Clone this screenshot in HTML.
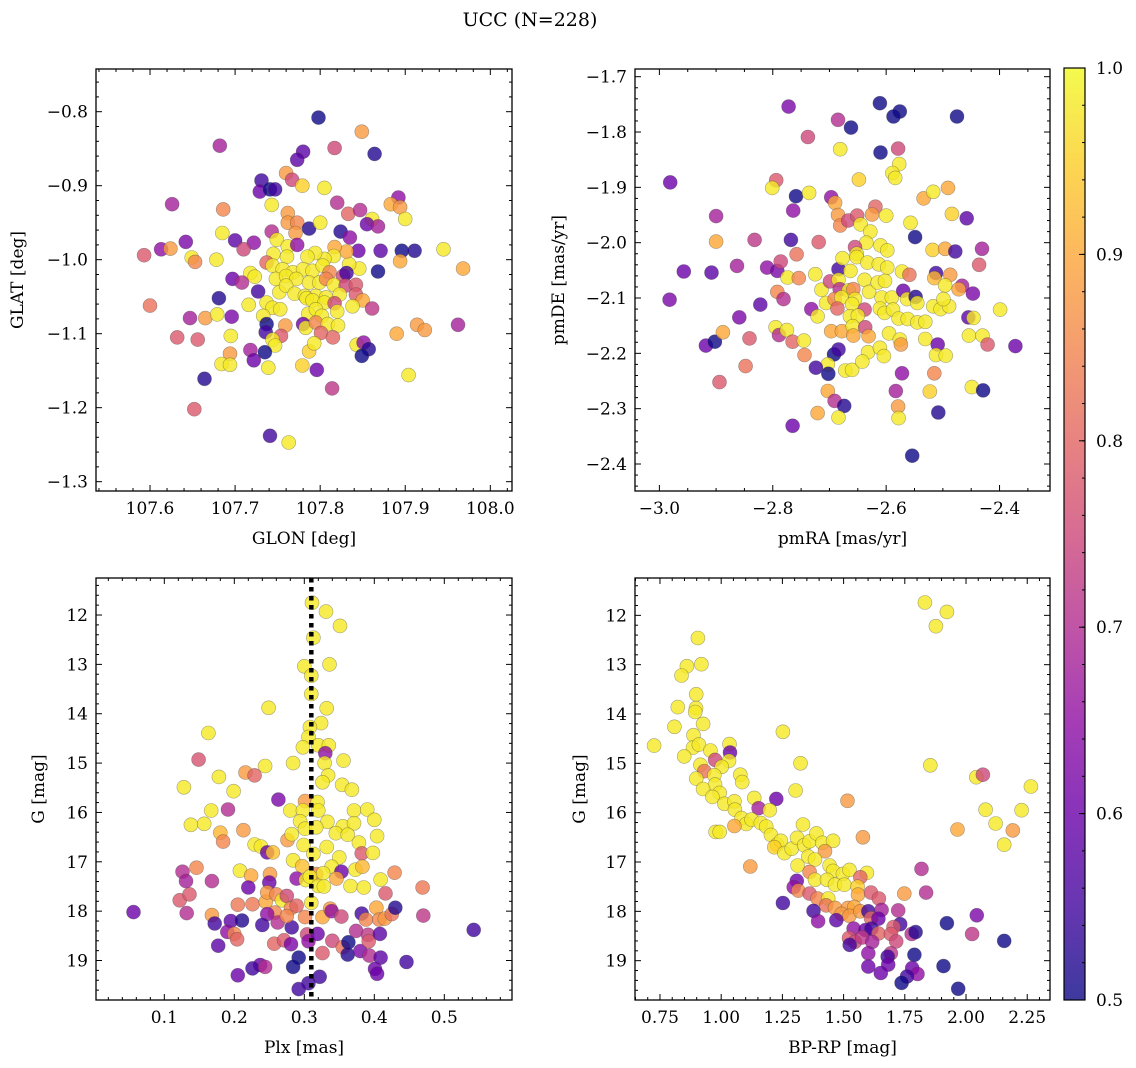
<!DOCTYPE html>
<html><head><meta charset="utf-8">
<style>
html,body{margin:0;padding:0;background:#fff;}
svg{display:block;font-family:"DejaVu Serif","Liberation Serif",serif;}
</style></head>
<body>
<svg id="fig" width="1136" height="1068" viewBox="0 0 1136 1068" xmlns="http://www.w3.org/2000/svg">
<defs>
<linearGradient id="cbgrad" x1="0" y1="1" x2="0" y2="0">
<stop offset="0" stop-color="#0d0887"/><stop offset="0.1" stop-color="#41049d"/><stop offset="0.2" stop-color="#6a00a8"/><stop offset="0.3" stop-color="#8f0da4"/><stop offset="0.4" stop-color="#b12a90"/><stop offset="0.5" stop-color="#cc4778"/><stop offset="0.6" stop-color="#e16462"/><stop offset="0.7" stop-color="#f2844b"/><stop offset="0.8" stop-color="#fca636"/><stop offset="0.9" stop-color="#fcce25"/><stop offset="1" stop-color="#f0f921"/>
</linearGradient>
</defs>
<text x="530" y="26" font-size="19" text-anchor="middle">UCC (N=228)</text>
</svg>
<script>
// ---- Panel 1: GLON vs GLAT ----
const glon = [107.798,107.849,107.682,107.817,107.78,107.773,107.864,107.76,107.767,107.779,107.731,107.729,107.741,107.747,107.805,107.626,107.686,107.743,107.82,107.833,107.847,107.892,107.883,107.894,107.9,107.861,107.855,107.868,107.762,107.762,107.773,107.771,107.787,107.8,107.824,107.835,107.743,107.685,107.7,107.722,107.642,107.613,107.624,107.593,107.649,107.653,107.678,107.71,107.749,107.762,107.773,107.845,107.871,107.896,107.911,107.945,107.968,107.894,107.868,107.846,107.834,107.831,107.817,107.816,107.805,107.794,107.785,107.745,107.761,107.737,107.744,107.756,107.768,107.78,107.791,107.803,107.811,107.827,107.831,107.718,107.723,107.697,107.708,107.748,107.76,107.772,107.787,107.799,107.807,107.816,107.83,107.842,107.727,107.752,107.76,107.77,107.782,107.795,107.807,107.823,107.842,107.681,107.784,107.791,107.805,107.817,107.85,107.838,107.861,107.6,107.716,107.737,107.744,107.753,107.733,107.786,107.795,107.802,107.82,107.647,107.665,107.679,107.696,107.737,107.736,107.759,107.78,107.783,107.795,107.809,107.821,107.801,107.815,107.754,107.744,107.747,107.632,107.656,107.695,107.694,107.718,107.722,107.735,107.684,107.694,107.739,107.779,107.787,107.793,107.796,107.843,107.851,107.857,107.849,107.89,107.914,107.923,107.962,107.664,107.814,107.904,107.652,107.741,107.763];
const glat = [-0.808,-0.827,-0.846,-0.849,-0.854,-0.865,-0.857,-0.883,-0.892,-0.9,-0.893,-0.908,-0.905,-0.905,-0.903,-0.925,-0.932,-0.926,-0.923,-0.938,-0.933,-0.916,-0.925,-0.929,-0.945,-0.945,-0.952,-0.955,-0.937,-0.95,-0.95,-0.964,-0.958,-0.95,-0.962,-0.97,-0.962,-0.964,-0.974,-0.977,-0.976,-0.986,-0.985,-0.994,-0.997,-1.003,-1.0,-0.986,-0.973,-0.982,-0.98,-0.988,-0.988,-0.988,-0.988,-0.986,-1.012,-1.002,-1.016,-1.012,-1.006,-0.989,-0.983,-0.995,-0.999,-0.991,-0.996,-0.992,-0.996,-1.004,-1.008,-1.013,-1.017,-1.013,-1.015,-1.008,-1.017,-1.022,-1.018,-1.018,-1.023,-1.026,-1.031,-1.026,-1.022,-1.026,-1.031,-1.031,-1.026,-1.034,-1.035,-1.034,-1.043,-1.044,-1.035,-1.046,-1.049,-1.049,-1.051,-1.047,-1.047,-1.052,-1.052,-1.055,-1.058,-1.059,-1.055,-1.063,-1.066,-1.062,-1.061,-1.058,-1.065,-1.067,-1.076,-1.073,-1.067,-1.076,-1.07,-1.079,-1.079,-1.074,-1.077,-1.087,-1.098,-1.089,-1.087,-1.092,-1.085,-1.087,-1.089,-1.099,-1.105,-1.103,-1.108,-1.116,-1.105,-1.108,-1.103,-1.127,-1.122,-1.136,-1.125,-1.141,-1.142,-1.146,-1.143,-1.124,-1.113,-1.149,-1.115,-1.112,-1.121,-1.13,-1.1,-1.088,-1.095,-1.088,-1.161,-1.174,-1.156,-1.202,-1.238,-1.247];
const prob1 = [.5,.88,.68,.75,.58,.58,.52,.88,.75,.95,.55,.6,.5,.55,.98,.68,.85,.98,.7,.8,.7,.65,.9,.88,.98,.98,.6,.68,.88,.88,.85,.88,.52,.98,.52,.65,.7,.98,.58,.65,.62,.65,.88,.78,.98,.85,.98,.75,.98,.98,.65,.6,.58,.5,.52,.98,.9,.9,.5,.98,.98,.9,.9,.98,.98,.98,.98,.98,.98,.8,.98,.98,.98,.98,.98,.98,.85,.75,.55,.98,.98,.6,.7,.98,.98,.98,.98,.98,.85,.98,.75,.78,.55,.98,.98,.98,.98,.98,.98,.98,.78,.52,.98,.98,.98,.75,.9,.98,.72,.82,.98,.98,.98,.98,.98,.98,.98,.98,.98,.68,.88,.98,.62,.5,.55,.88,.6,.98,.85,.98,.98,.8,.8,.78,.98,.98,.78,.78,.98,.88,.68,.6,.5,.98,.98,.98,.95,.95,.98,.6,.98,.65,.52,.5,.9,.88,.88,.68,.52,.72,.98,.78,.55,.98];

// ---- Panel 2: pmRA vs pmDE ----
const pmra = [-2.772,-2.611,-2.576,-2.587,-2.475,-2.685,-2.662,-2.738,-2.681,-2.61,-2.579,-2.577,-2.589,-2.584,-2.648,-2.981,-2.794,-2.801,-2.759,-2.736,-2.697,-2.69,-2.764,-2.9,-2.685,-2.681,-2.667,-2.651,-2.645,-2.619,-2.625,-2.6,-2.628,-2.557,-2.534,-2.517,-2.491,-2.484,-2.458,-2.9,-2.832,-2.768,-2.719,-2.758,-2.635,-2.61,-2.598,-2.655,-2.652,-2.549,-2.518,-2.496,-2.478,-2.431,-2.436,-2.957,-2.908,-2.863,-2.81,-2.792,-2.786,-2.774,-2.754,-2.725,-2.684,-2.677,-2.652,-2.663,-2.633,-2.613,-2.598,-2.572,-2.559,-2.512,-2.487,-2.515,-2.496,-2.466,-2.472,-2.447,-2.982,-2.822,-2.792,-2.781,-2.714,-2.699,-2.684,-2.682,-2.666,-2.658,-2.655,-2.638,-2.63,-2.615,-2.602,-2.608,-2.59,-2.57,-2.563,-2.548,-2.545,-2.706,-2.691,-2.679,-2.66,-2.638,-2.686,-2.732,-2.721,-2.664,-2.65,-2.611,-2.603,-2.588,-2.578,-2.562,-2.545,-2.531,-2.517,-2.504,-2.489,-2.499,-2.455,-2.446,-2.399,-2.372,-2.918,-2.902,-2.888,-2.859,-2.841,-2.795,-2.789,-2.775,-2.765,-2.745,-2.744,-2.697,-2.678,-2.659,-2.658,-2.637,-2.631,-2.632,-2.611,-2.604,-2.595,-2.576,-2.574,-2.531,-2.509,-2.512,-2.495,-2.454,-2.43,-2.421,-2.692,-2.684,-2.703,-2.724,-2.702,-2.672,-2.66,-2.642,-2.848,-2.572,-2.515,-2.894,-2.703,-2.691,-2.674,-2.583,-2.523,-2.449,-2.429,-2.721,-2.684,-2.579,-2.578,-2.508,-2.765,-2.554];
const pmde = [-1.754,-1.748,-1.763,-1.772,-1.772,-1.778,-1.792,-1.809,-1.831,-1.837,-1.83,-1.858,-1.874,-1.883,-1.886,-1.891,-1.887,-1.901,-1.916,-1.91,-1.918,-1.928,-1.942,-1.952,-1.95,-1.969,-1.96,-1.951,-1.967,-1.935,-1.949,-1.951,-1.98,-1.964,-1.92,-1.908,-1.901,-1.948,-1.956,-1.998,-1.995,-1.995,-1.999,-2.021,-2.0,-2.005,-2.014,-2.008,-2.02,-1.99,-2.013,-2.011,-2.016,-2.011,-2.04,-2.052,-2.054,-2.042,-2.045,-2.051,-2.034,-2.063,-2.064,-2.057,-2.048,-2.028,-2.026,-2.051,-2.036,-2.039,-2.045,-2.052,-2.058,-2.055,-2.058,-2.064,-2.077,-2.078,-2.084,-2.092,-2.103,-2.112,-2.089,-2.102,-2.085,-2.07,-2.067,-2.084,-2.086,-2.084,-2.102,-2.067,-2.089,-2.072,-2.069,-2.099,-2.099,-2.087,-2.102,-2.098,-2.109,-2.109,-2.102,-2.099,-2.111,-2.121,-2.119,-2.12,-2.133,-2.133,-2.132,-2.119,-2.127,-2.121,-2.137,-2.138,-2.144,-2.143,-2.115,-2.12,-2.115,-2.102,-2.135,-2.136,-2.121,-2.187,-2.186,-2.179,-2.162,-2.135,-2.173,-2.153,-2.167,-2.158,-2.179,-2.177,-2.203,-2.16,-2.16,-2.151,-2.168,-2.153,-2.169,-2.198,-2.19,-2.205,-2.164,-2.175,-2.184,-2.174,-2.184,-2.203,-2.204,-2.168,-2.168,-2.184,-2.202,-2.193,-2.22,-2.226,-2.237,-2.231,-2.23,-2.215,-2.223,-2.236,-2.236,-2.252,-2.268,-2.286,-2.295,-2.268,-2.269,-2.261,-2.267,-2.308,-2.316,-2.296,-2.317,-2.307,-2.331,-2.385];
const prob2 = [.62,.5,.5,.5,.5,.7,.5,.75,.98,.5,.75,.98,.98,.98,.95,.6,.78,.98,.5,.98,.65,.9,.65,.68,.88,.85,.75,.78,.98,.8,.88,.98,.98,.98,.9,.98,.9,.95,.58,.9,.72,.55,.78,.82,.98,.98,.98,.75,.98,.5,.95,.9,.55,.68,.78,.6,.58,.68,.65,.62,.75,.98,.85,.98,.55,.98,.98,.98,.98,.98,.98,.98,.82,.55,.88,.92,.98,.68,.9,.62,.62,.58,.85,.7,.98,.75,.98,.7,.98,.85,.98,.98,.98,.98,.98,.98,.98,.6,.98,.52,.98,.98,.85,.98,.98,.75,.8,.65,.98,.98,.98,.98,.98,.98,.98,.98,.98,.98,.98,.98,.98,.98,.58,.98,.98,.6,.6,.5,.9,.62,.78,.98,.7,.98,.8,.98,.85,.9,.9,.98,.9,.75,.9,.98,.98,.98,.98,.98,.88,.98,.6,.98,.98,.98,.98,.78,.5,.55,.98,.55,.5,.98,.98,.98,.82,.65,.85,.78,.9,.7,.52,.68,.95,.98,.5,.9,.98,.88,.98,.52,.6,.5];

// ---- Panel 3: Plx vs G ----
const plx = [.311,.331,.351,.313,.30,.336,.31,.31,.249,.332,.324,.308,.163,.306,.32,.335,.298,.33,.149,.244,.284,.329,.356,.216,.229,.178,.334,.326,.128,.199,.354,.368,.263,.301,.319,.191,.167,.28,.298,.32,.371,.39,.138,.157,.213,.294,.333,.355,.371,.40,.18,.184,.276,.282,.301,.317,.345,.362,.404,.229,.238,.247,.255,.299,.332,.378,.382,.398,.313,.284,.35,.297,.339,.353,.373,.383,.126,.131,.146,.168,.208,.224,.22,.251,.25,.289,.302,.317,.327,.346,.308,.32,.328,.366,.385,.409,.429,.469,.416,.122,.136,.056,.132,.168,.172,.195,.211,.205,.226,.245,.247,.26,.268,.275,.281,.289,.258,.247,.24,.262,.282,.275,.301,.31,.326,.337,.339,.353,.382,.388,.403,.407,.415,.425,.43,.47,.542,.19,.2,.204,.177,.257,.271,.281,.304,.306,.319,.34,.355,.363,.362,.374,.38,.391,.392,.393,.409,.408,.326,.292,.284,.237,.226,.244,.205,.322,.306,.292,.401,.404,.446];
const gmag3 = [11.75,11.93,12.22,12.46,13.04,13.0,13.23,13.6,13.88,13.89,14.19,14.27,14.39,14.47,14.64,14.64,14.68,14.8,14.93,15.06,15.0,15.0,14.95,15.19,15.25,15.28,15.25,15.39,15.49,15.57,15.44,15.54,15.74,15.77,15.79,15.94,15.96,15.96,15.96,15.96,15.96,15.94,16.25,16.23,16.36,16.18,16.19,16.28,16.22,16.15,16.41,16.59,16.56,16.44,16.33,16.3,16.42,16.45,16.48,16.65,16.69,16.81,16.81,16.66,16.7,16.61,16.83,16.82,16.84,16.97,16.91,17.09,17.1,17.2,17.16,17.1,17.2,17.39,17.12,17.39,17.18,17.28,17.52,17.25,17.42,17.34,17.37,17.25,17.23,17.34,17.3,17.49,17.5,17.49,17.52,17.36,17.22,17.52,17.64,17.78,17.66,18.02,18.04,18.08,18.25,18.2,18.19,17.87,17.86,17.81,17.62,17.66,17.78,17.69,17.94,17.89,18.03,18.06,18.28,18.23,18.33,18.1,18.12,17.83,18.12,17.95,18.0,18.11,18.05,18.17,17.93,18.17,18.15,18.06,17.93,18.09,18.38,18.42,18.46,18.57,18.7,18.66,18.59,18.67,18.47,18.61,18.46,18.6,18.73,18.63,18.88,18.4,18.81,18.48,18.61,18.9,18.94,18.46,18.85,18.94,19.13,19.09,19.16,19.13,19.3,19.33,19.46,19.58,19.17,19.27,19.03];
const prob3 = [.98,.98,.98,.98,.98,.98,.98,.98,.98,.98,.98,.98,.98,.98,.98,.98,.98,.65,.77,.98,.98,.98,.98,.88,.8,.98,.98,.98,.98,.98,.98,.98,.62,.88,.98,.7,.98,.98,.98,.98,.98,.98,.98,.98,.88,.98,.98,.98,.98,.98,.92,.85,.88,.98,.98,.98,.98,.98,.98,.98,.98,.6,.93,.98,.98,.98,.78,.98,.98,.98,.98,.93,.98,.6,.98,.92,.7,.68,.85,.7,.98,.9,.6,.88,.6,.65,.98,.85,.98,.9,.98,.98,.98,.98,.98,.98,.85,.83,.78,.78,.78,.6,.7,.88,.55,.58,.52,.83,.83,.9,.88,.85,.98,.75,.85,.8,.85,.65,.55,.7,.55,.85,.85,.98,.9,.88,.65,.75,.55,.85,.9,.85,.88,.82,.52,.72,.55,.65,.85,.8,.58,.8,.78,.62,.75,.65,.6,.75,.82,.5,.52,.7,.62,.72,.78,.7,.58,.58,.78,.5,.5,.6,.55,.7,.6,.55,.55,.55,.6,.6,.55];

// ---- Panel 4: BP-RP vs G ----
const bprp = [1.832,1.922,1.877,.905,.86,.919,.838,.898,.823,.897,.894,.926,.809,1.252,.887,.726,.885,.909,.849,.956,1.034,1.036,.975,1.032,.915,1.002,1.324,.931,.972,1.854,1.078,.898,.975,1.086,2.042,2.069,2.265,.926,.994,1.304,.964,1.516,1.135,1.225,1.013,1.054,1.153,1.198,2.08,2.227,1.056,1.083,1.102,1.124,1.054,.977,.994,1.162,1.184,1.334,1.579,1.965,2.121,2.191,2.156,1.203,1.228,1.244,1.217,1.258,1.288,1.31,1.339,1.361,1.389,1.413,1.457,1.424,1.356,1.312,1.383,1.119,1.443,1.457,1.497,1.524,1.595,1.818,1.568,1.361,1.383,1.432,1.465,1.503,1.309,1.296,1.315,1.361,1.394,1.437,1.557,1.559,1.612,1.644,1.748,1.837,1.252,1.429,1.465,1.518,1.544,1.492,1.524,1.568,1.601,1.612,1.655,1.723,1.377,1.396,1.47,1.642,2.044,1.922,1.731,1.541,1.589,1.614,1.642,1.704,1.693,1.522,1.546,1.576,1.617,1.525,1.778,1.794,2.025,2.156,1.715,1.693,1.68,1.601,1.789,1.601,1.682,1.652,1.78,1.802,1.759,1.908,1.737,1.968];
const gmag4 = [11.74,11.93,12.22,12.46,13.03,12.99,13.22,13.6,13.86,13.88,13.96,14.2,14.26,14.36,14.43,14.64,14.68,14.62,14.86,14.74,14.61,14.78,14.93,14.95,15.03,15.07,15.0,15.16,15.24,15.04,15.23,15.31,15.43,15.38,15.28,15.23,15.47,15.52,15.6,15.55,15.68,15.76,15.7,15.72,15.82,15.77,15.91,15.95,15.94,15.95,15.94,16.11,16.23,16.14,16.27,16.39,16.39,16.21,16.28,16.24,16.5,16.34,16.22,16.36,16.65,16.45,16.65,16.57,16.7,16.82,16.73,16.51,16.66,16.58,16.42,16.61,16.57,16.78,16.89,17.07,16.95,17.09,17.07,17.18,17.24,17.16,17.22,17.14,17.31,17.2,17.36,17.36,17.46,17.46,17.38,17.51,17.58,17.64,17.74,17.74,17.5,17.66,17.62,17.74,17.64,17.62,17.83,17.88,17.93,17.93,17.91,18.05,18.09,18.0,18.0,18.14,17.97,17.98,17.99,18.2,18.18,18.15,18.08,18.24,18.26,18.35,18.38,18.35,18.45,18.32,18.46,18.54,18.62,18.53,18.62,18.68,18.46,18.42,18.46,18.6,18.61,18.85,18.92,18.85,18.88,19.12,19.08,19.25,19.15,19.27,19.32,19.11,19.45,19.57];
const prob4 = [.98,.98,.98,.98,.98,.98,.98,.98,.98,.98,.98,.98,.98,.98,.98,.98,.98,.98,.98,.98,.98,.6,.75,.98,.98,.98,.98,.82,.98,.98,.98,.98,.98,.98,.98,.75,.98,.98,.98,.98,.98,.88,.98,.6,.98,.98,.68,.98,.98,.98,.98,.98,.98,.98,.9,.98,.98,.98,.98,.98,.88,.9,.98,.88,.98,.98,.98,.98,.95,.98,.98,.98,.98,.98,.98,.98,.98,.88,.98,.98,.98,.88,.98,.98,.98,.98,.98,.7,.8,.85,.98,.98,.98,.98,.6,.65,.85,.78,.85,.98,.95,.9,.78,.78,.88,.7,.55,.82,.88,.88,.9,.88,.88,.88,.55,.8,.68,.7,.55,.65,.58,.6,.62,.5,.55,.65,.6,.55,.8,.78,.78,.78,.75,.72,.68,.55,.7,.52,.72,.5,.75,.72,.55,.65,.5,.6,.6,.6,.6,.65,.55,.5,.5,.5];

const cbTicks = [0.5,0.6,0.7,0.8,0.9,1.0];
const plxRef = [0.31];

const NS = 'http://www.w3.org/2000/svg';
const svg = document.getElementById('fig');
const stops = ['#0d0887','#41049d','#6a00a8','#8f0da4','#b12a90','#cc4778','#e16462','#f2844b','#fca636','#fcce25','#f0f921'];
function hex(h){return [parseInt(h.substr(1,2),16),parseInt(h.substr(3,2),16),parseInt(h.substr(5,2),16)];}
function plasma(v){
  let t=Math.max(0,Math.min(1,(v-0.5)/0.5))*10;
  let i=Math.min(9,Math.floor(t)), f=t-i;
  let a=hex(stops[i]), b=hex(stops[i+1]);
  return 'rgb('+a.map((c,k)=>Math.round(c+(b[k]-c)*f)).join(',')+')';
}
function mk(tag,attrs,parent){
  const e=document.createElementNS(NS,tag);
  for(const k in attrs) e.setAttribute(k,attrs[k]);
  (parent||svg).appendChild(e);
  return e;
}
function fmt(v,d){let s=v.toFixed(d);return v<0?'\u2212'+s.substr(1):s;}

function panel(cfg){
  const g=mk('g',{});
  
  
  const sx=v=>cfg.x0+(v-cfg.xr[0])/(cfg.xr[1]-cfg.xr[0])*(cfg.x1-cfg.x0);
  const sy=v=>cfg.y0+(v-cfg.yr[0])/(cfg.yr[1]-cfg.yr[0])*(cfg.y1-cfg.y0);
  const pg=mk('g',{},g);
  
  
  for(let i=0;i<cfg.xs.length;i++){
    const c=mk('circle',{cx:sx(cfg.xs[i]).toFixed(1),cy:sy(cfg.ys[i]).toFixed(1),r:7,fill:plasma(cfg.cs[i]),'fill-opacity':0.8,stroke:'rgba(60,60,60,0.45)','stroke-width':0.6},pg);
    
    
  }
  if(cfg.vline){
    for(const v of cfg.vline){
      const l=mk('line',{x1:sx(v),x2:sx(v),y1:cfg.y0,y2:cfg.y1,stroke:'#000','stroke-width':4.5,'stroke-dasharray':'4.5,4.5'},g);
      
      
    }
  }
  const fr=mk('rect',{x:cfg.x0,y:cfg.y0,width:cfg.x1-cfg.x0,height:cfg.y1-cfg.y0,fill:'none',stroke:'#000','stroke-width':1.3},g);
  
  
  const lo=Math.min(cfg.xr[0],cfg.xr[1]),hi=Math.max(cfg.xr[0],cfg.xr[1]);
  for(let k=Math.ceil(lo/cfg.xmin-1e-6);k*cfg.xmin<=hi+1e-9;k++){
    const v=k*cfg.xmin,x=sx(v);
    const isMaj=Math.abs(v/cfg.xmaj-Math.round(v/cfg.xmaj))<1e-6;
    const L=isMaj?6:3;
    mk('line',{x1:x,x2:x,y1:cfg.y1,y2:cfg.y1-L,stroke:'#000','stroke-width':1},g);
    mk('line',{x1:x,x2:x,y1:cfg.y0,y2:cfg.y0+L,stroke:'#000','stroke-width':1},g);
    if(isMaj){
      const t=mk('text',{x:x,y:cfg.y1+23,'font-size':17,'text-anchor':'middle'},g);
      t.textContent=fmt(v,cfg.xd);
      
      
    }
  }
  const ylo=Math.min(cfg.yr[0],cfg.yr[1]),yhi=Math.max(cfg.yr[0],cfg.yr[1]);
  for(let k=Math.ceil(ylo/cfg.ymin-1e-6);k*cfg.ymin<=yhi+1e-9;k++){
    const v=k*cfg.ymin,y=sy(v);
    const isMaj=Math.abs(v/cfg.ymaj-Math.round(v/cfg.ymaj))<1e-6;
    const L=isMaj?6:3;
    mk('line',{x1:cfg.x0,x2:cfg.x0+L,y1:y,y2:y,stroke:'#000','stroke-width':1},g);
    mk('line',{x1:cfg.x1,x2:cfg.x1-L,y1:y,y2:y,stroke:'#000','stroke-width':1},g);
    if(isMaj){
      const t=mk('text',{x:cfg.x0-8,y:y+6,'font-size':17,'text-anchor':'end'},g);
      t.textContent=fmt(v,cfg.yd);
      
      
    }
  }
  const xl=mk('text',{x:(cfg.x0+cfg.x1)/2,y:cfg.y1+53,'font-size':17,'text-anchor':'middle'},g);
  xl.textContent=cfg.xlabel;
  
  
  const yx=cfg.ylx, yy=(cfg.y0+cfg.y1)/2;
  const yl=mk('text',{x:yx,y:yy,'font-size':17,'text-anchor':'middle',transform:'rotate(-90 '+yx+' '+yy+')'},g);
  yl.textContent=cfg.ylabel;
  
  
}

panel({name:'glon-glat-panel',x0:96,x1:512,y0:69,y1:491,xr:[107.5365,108.0255],yr:[-0.7423,-1.3126],xs:glon,ys:glat,cs:prob1,xmaj:0.1,xmin:0.02,ymaj:0.1,ymin:0.02,xd:1,yd:1,xlabel:'GLON [deg]',ylabel:'GLAT [deg]',ylx:23});
panel({name:'pm-panel',x0:635,x1:1050,y0:69,y1:491,xr:[-3.043,-2.311],yr:[-1.6861,-2.4488],xs:pmra,ys:pmde,cs:prob2,xmaj:0.2,xmin:0.05,ymaj:0.1,ymin:0.02,xd:1,yd:1,xlabel:'pmRA [mas/yr]',ylabel:'pmDE [mas/yr]',ylx:564});
panel({name:'plx-g-panel',x0:96,x1:512,y0:578,y1:1000,xr:[0.0024,0.5967],yr:[11.25,19.80],xs:plx,ys:gmag3,cs:prob3,xmaj:0.1,xmin:0.02,ymaj:1,ymin:0.2,xd:1,yd:0,xlabel:'Plx [mas]',ylabel:'G [mag]',ylx:44,vline:plxRef});
panel({name:'cmd-panel',x0:635,x1:1050,y0:578,y1:1000,xr:[0.648,2.343],yr:[11.243,19.797],xs:bprp,ys:gmag4,cs:prob4,xmaj:0.25,xmin:0.05,ymaj:1,ymin:0.2,xd:2,yd:0,xlabel:'BP-RP [mag]',ylabel:'G [mag]',ylx:585});

(function(){
  const x0=1064,x1=1085,y0=68,y1=1000;
  const g=mk('g',{});
  
  
  mk('rect',{x:x0,y:y0,width:x1-x0,height:y1-y0,fill:'url(#cbgrad)','fill-opacity':0.8},g);
  mk('rect',{x:x0,y:y0,width:x1-x0,height:y1-y0,fill:'none',stroke:'#000','stroke-width':1.2},g);
  const sy=v=>y1-(v-0.5)/0.5*(y1-y0);
  for(let k=25;k<=50;k++){
    const v=k*0.02,y=sy(v);
    mk('line',{x1:x1,x2:x1-3,y1:y,y2:y,stroke:'#000','stroke-width':1},g);
  }
  for(const v of cbTicks){
    const y=sy(v);
    mk('line',{x1:x1,x2:x1-6,y1:y,y2:y,stroke:'#000','stroke-width':1},g);
    const t=mk('text',{x:x1+11,y:y+6,'font-size':17},g);
    t.textContent=v.toFixed(1);
    
    
  }
})();
</script>
</body></html>
